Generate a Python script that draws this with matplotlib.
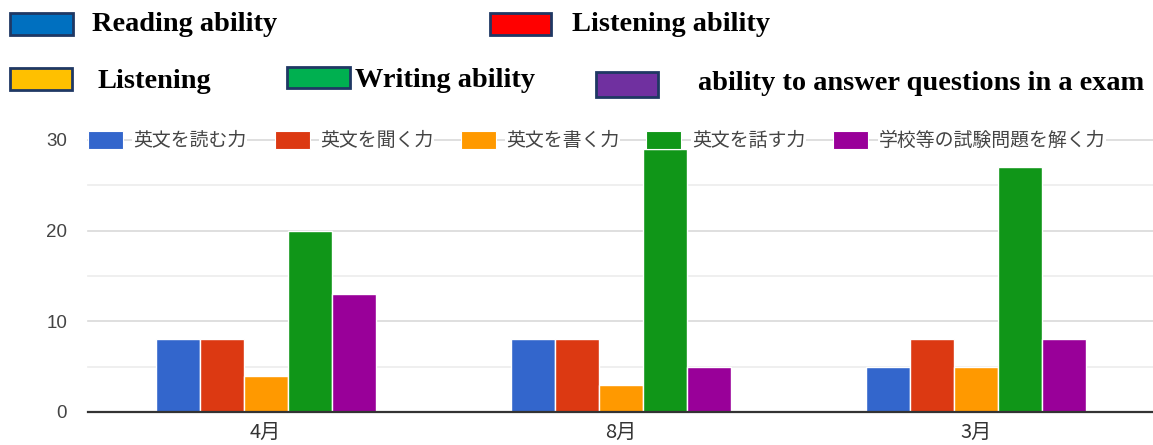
import matplotlib.pyplot as plt
from matplotlib.patches import Rectangle

months = ['4月', '8月', '3月']
skills_ja = ['英文を読む力', '英文を聞く力', '英文を書く力', '英文を話す力', '学校等の試験問題を解く力']
skills_en = ['Reading ability', 'Listening ability', 'Listening', 'Writing ability',
             'ability to answer questions in a exam']
reading = [8, 8, 5]
listening = [8, 8, 8]
writing = [4, 3, 5]
speaking = [20, 29, 27]
exam = [13, 5, 8]
y_ticks = [0, 10, 20, 30]

bar_colors = ['#3366cc', '#dc3912', '#ff9900', '#109618', '#990099']
key_colors = ['#0070c0', '#ff0000', '#ffc000', '#00b050', '#7030a0']

W, H = 1153, 445
fig = plt.figure(figsize=(W / 100, H / 100), dpi=100)


def fx(px):
    return px / W


def fy(py):
    return 1 - py / H


ax = fig.add_axes([fx(88), fy(412), fx(1154 - 88), (412 - 140) / H])
series = [reading, listening, writing, speaking, exam]
width = 0.124
for i, (vals, c) in enumerate(zip(series, bar_colors)):
    xs = [m + (i - 2) * width for m in range(len(months))]
    ax.bar(xs, vals, width, color=c, edgecolor='white', linewidth=1, zorder=3)

ax.set_xlim(-0.5, 2.5)
ax.set_ylim(0, 30)
for y in range(5, 31, 5):
    ax.axhline(y, color='#ececec' if y % 10 else '#d9d9d9', lw=1.2, zorder=1, clip_on=False)
ax.axhline(0, color='#333333', lw=1.6, zorder=4, clip_on=False)
for s in ax.spines.values():
    s.set_visible(False)

ax.set_yticks(y_ticks)
ax.set_yticklabels([str(t) for t in y_ticks], family='Liberation Sans', fontsize=13.5, color='#444444')
ax.set_xticks(range(len(months)))
ax.set_xticklabels(months, family=['Noto Sans CJK JP', 'DejaVu Sans'], fontsize=14.5, color='#333333')
ax.tick_params(axis='y', length=0, pad=15)
ax.tick_params(axis='x', length=0, pad=7)

# legend sitting on the top gridline
leg_patch_x = [88, 275, 461, 646, 833]
leg_text_x = [133, 320, 506, 692, 879]
for px, tx, c, lab in zip(leg_patch_x, leg_text_x, bar_colors, skills_ja):
    fig.patches.append(Rectangle((fx(px), fy(149)), fx(35), 18 / H, transform=fig.transFigure,
                                 facecolor=c, edgecolor='white', lw=0.8, zorder=5))
    fig.text(fx(tx), fy(140), lab, family=['Noto Sans CJK JP', 'DejaVu Sans'], fontsize=13.6,
             color='#444444', va='center', ha='left', zorder=5,
             bbox=dict(facecolor='white', edgecolor='none', pad=0.5))

# english key above the chart
key_boxes = [(10, 13, 63, 22), (490, 13, 61, 22), (10, 68, 62, 22), (287, 67, 63, 21), (596, 72, 62, 25)]
key_text = [(92, 31), (572, 31), (98, 88), (355, 87), (698, 90)]
for (bx, by, bw, bh), (tx, ty), c, lab in zip(key_boxes, key_text, key_colors, skills_en):
    fig.patches.append(Rectangle((fx(bx), fy(by + bh)), fx(bw), bh / H, transform=fig.transFigure,
                                 facecolor=c, edgecolor='#1f3864', lw=2))
    fig.text(fx(tx), fy(ty), lab, family='Liberation Serif', fontweight='bold', fontsize=20.4,
             color='black', va='baseline', ha='left')

fig.savefig('out.png', dpi=100)
